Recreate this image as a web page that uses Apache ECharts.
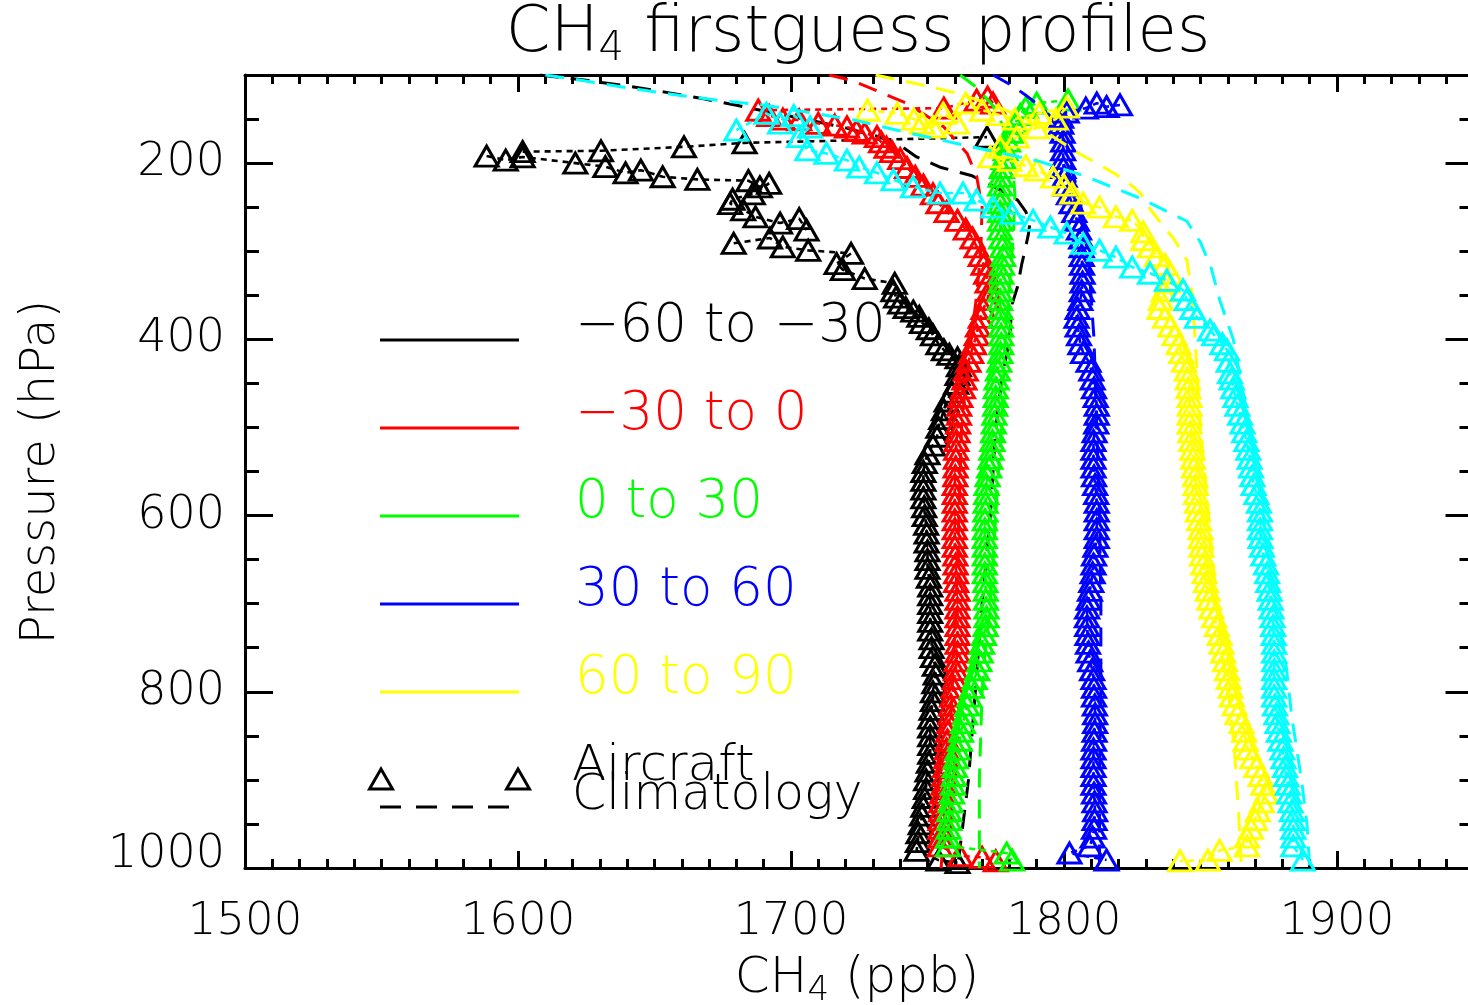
<!DOCTYPE html>
<html>
<head>
<meta charset="utf-8">
<title>CH4 firstguess profiles</title>
<script src="https://cdn.jsdelivr.net/npm/echarts@6/dist/echarts.min.js"></script>
<style>
  html, body { margin: 0; padding: 0; background: #ffffff; }
  #chart { width: 1468px; height: 1005px; }
</style>
</head>
<body>
<div id="chart"></div>
<script>
// CH4 first-guess profiles: aircraft observations (open triangles joined by a
// dotted line) and the climatology (long dashes), one colour per latitude band.
// Every profile is a list of [CH4 (ppb), pressure (hPa)]; '-' breaks the line.

const bandLabels = ['\u221260 to \u221230', '\u221230 to 0', '0 to 30', '30 to 60', '60 to 90'];
const xTickLabels = [1500, 1600, 1700, 1800, 1900];
const yTickLabels = [200, 400, 600, 800, 1000];

const blackAircraft = [
  [1601.7,187],[1630.4,186],[1660.8,181.5],[1683,177],[1771.8,170.5],'-',
  [1588.5,192],[1595.5,196.6],[1601.7,193],[1621,200],[1632,204],[1639.4,211],[1645,208],[1653,215.5],
  [1665.7,218.5],[1684.4,220],[1688.6,227],[1692,223],[1686,235],[1678.6,241],[1677.7,246],[1682.5,253],
  [1687,261],[1696,268],[1703,263],[1705.7,276],'-',
  [1679,291],[1692.3,285],[1697,295],[1706.3,299],[1722,302.5],[1716.7,314],[1719,321],[1727,331],
  [1738,336.5],[1737.5,345],[1738.5,352],[1740,359],[1742,364],[1744.8,368],[1747,374],[1748,381],
  [1750.5,388],[1752,395],[1754,405],[1756,412],[1758,417],[1761,421],[1761.5,430],[1761,440],
  [1760.5,450],[1759,460],[1757,470],[1756,480],[1755,490],[1754,500],[1753.5,510],[1752,520],
  [1750,530],[1749,540],[1748.5,550],[1748.5,560],[1748.5,570],[1748.5,580],[1748.8,590],[1749,600],
  [1749.5,610],[1749.7,620],[1749.7,630],[1750,640],[1750,650],[1750,660],[1750.5,670],[1751,680],
  [1751,690],[1751,700],[1751,710],[1751,720],[1751,730],[1751.5,740],[1751.5,750],[1752,760],
  [1752.7,770],[1753,780],[1752.5,790],[1752,800],[1752,810],[1751.5,820],[1751,830],[1751,840],
  [1751,850],[1751,860],[1751,870],[1750.5,880],[1750,890],[1749.5,900],[1749.5,910],[1749,920],
  [1748.5,930],[1748,940],[1747.5,950],[1746.7,960],[1746.5,970],[1746,980],[1754,991],[1761,994]
];

const redAircraft = [
  [1774,132],[1772,125],[1768,128.5],[1756,137.6],[1688,140],[1692,146],[1697,150],[1703,151],
  [1710,155],[1716,157],[1720.5,159],[1724,163],[1727,166],[1731.5,170],[1733,176],[1735,182],
  [1737,187],[1740,195],[1742.5,205],[1745.5,215],[1748.5,225],[1752,235],[1754,245],[1757,255],
  [1761,265],[1764,275],[1766.5,285],[1768,295],[1769.5,305],[1770.5,315],[1771.5,325],[1772,335],
  [1772.5,345],[1772,355],[1770.5,365],[1769.5,375],[1768.5,385],[1768,395],[1767,405],[1766,415],
  [1765,425],[1764,435],[1763.5,445],[1763,455],[1762,465],[1761.6,475],[1761.5,485],[1761.2,495],
  [1761,505],[1760.6,515],[1760.5,525],[1760.4,535],[1760.3,545],[1760.2,555],[1760,565],[1760,575],
  [1760,585],[1760,595],[1760,605],[1760,615],[1760,625],[1760,635],[1760.2,645],[1760.3,655],
  [1760.5,665],[1760.5,675],[1761,685],[1761,695],[1761,705],[1761,715],[1761,725],[1761,735],
  [1761,745],[1761,755],[1760.6,765],[1760.4,775],[1760,785],[1759.5,795],[1759,805],[1758.6,815],
  [1758.3,825],[1758,835],[1757.5,845],[1757.3,855],[1757,865],[1756.8,875],[1756.4,885],[1756,895],
  [1755.8,905],[1755.3,915],[1755,925],[1755,935],[1754.8,945],[1754.7,955],[1754.7,965],[1754.5,975],
  [1762,986],[1770,988],[1775,992]
];

const greenAircraft = [
  [1801.5,128.5],[1790,132],[1786,137],[1784,145],[1782,155],[1780.5,165],[1779.5,175],[1778.6,185],
  [1777.8,195],[1777.2,205],[1776.8,215],[1776.6,225],[1776.6,235],[1776.6,245],[1776.6,255],[1776.6,265],
  [1776.6,275],[1777,285],[1777.4,295],[1777.7,305],[1777.3,315],[1777,325],[1776.8,335],[1776.6,345],
  [1776.6,355],[1776.7,365],[1776.8,375],[1777,385],[1777,395],[1777,405],[1776.7,415],[1776.3,425],
  [1775.8,435],[1775.3,445],[1775,455],[1775,465],[1774.8,475],[1774.5,485],[1774.3,495],[1774,505],
  [1773.8,515],[1773.4,525],[1773,535],[1772.6,545],[1772,555],[1771.6,565],[1771.5,575],[1771.3,585],
  [1771.2,595],[1771,605],[1771,615],[1771,625],[1771,635],[1771,645],[1771,655],[1771,665],
  [1771.2,675],[1771.3,685],[1771.4,695],[1771.6,705],[1771.6,715],[1771.3,725],[1770.7,735],[1770,745],
  [1769.5,755],[1769,765],[1768.2,775],[1767.3,785],[1766.3,795],[1765.3,805],[1764.5,815],[1763.8,825],
  [1763,835],[1762.3,845],[1761.8,855],[1761,865],[1760.4,875],[1760,885],[1759.6,895],[1759.3,905],
  [1759,915],[1758.5,925],[1758,935],[1758,945],[1757.7,955],[1757.5,965],[1757.5,975],[1779,983],
  [1781,991]
];

const blueAircraft = [
  [1820.5,134],[1815.6,136],[1812,132],[1808,137.6],[1801,142],[1799,148],[1799,155],[1799.5,165],
  [1799.7,175],[1799.7,185],[1799.7,195],[1799.8,205],[1800.2,215],[1800.8,225],[1801.8,235],[1802.8,245],
  [1803.8,255],[1804.7,265],[1805.5,275],[1806.3,285],[1806.5,295],[1806.5,305],[1806.6,315],[1806.8,325],
  [1806.8,335],[1806.5,345],[1806,355],[1805,365],[1804.6,375],[1805,385],[1805.5,395],[1806,405],
  [1807,415],[1809,425],[1810,435],[1810.5,445],[1811,455],[1811.6,465],[1812,475],[1812,485],
  [1811.8,495],[1811.2,505],[1810.8,515],[1810.8,525],[1810.8,535],[1810.8,545],[1811,555],[1811.4,565],
  [1811.8,575],[1812,585],[1812,595],[1812,605],[1812,615],[1812,625],[1811.5,635],[1811,645],
  [1810.8,655],[1810.5,665],[1810,675],[1809.5,685],[1809,695],[1808.5,705],[1808.4,715],[1808.5,725],
  [1808.6,735],[1808.8,745],[1809,755],[1809.6,765],[1810.3,775],[1810.8,785],[1811,795],[1811,805],
  [1811.3,815],[1811.4,825],[1811.4,835],[1811.2,845],[1811,855],[1810.8,865],[1810.8,875],[1810.8,885],
  [1810.8,895],[1810.8,905],[1811,915],[1811.2,925],[1811.4,935],[1811.2,945],[1811,955],[1810.5,965],
  [1809.5,975],[1802,983],[1815.6,991]
];

const yellowAircraft = [
  [1728,140],[1739,143.5],[1745,150],[1748,154.6],[1752,159],[1755.7,143.5],[1760.8,154.6],[1764,132],
  [1770,140],[1776,145],[1782,150],[1791,143.5],[1801,136.5],[1797,150],[1790,160],[1782.7,170.5],
  [1776.6,182],[1773,193],[1780,197],[1786,203],[1790,208],[1796,216],[1800,225],[1803,234],
  [1807,245.5],[1813,250],[1819,261],[1825,265],[1829,278],[1829,287],[1831.5,295],[1834,305],
  [1837,315],[1839,325],[1838,335],[1836.5,345],[1835.5,355],[1835,365],[1837,375],[1839,385],
  [1840.5,395],[1842,405],[1843,415],[1844,425],[1845,435],[1845.3,445],[1845.6,455],[1846,465],
  [1846,475],[1846,485],[1846,495],[1846.3,505],[1846.6,515],[1847,525],[1847.3,535],[1847.6,545],
  [1848,555],[1848.2,565],[1848.4,575],[1848.7,585],[1849,595],[1849.5,605],[1850,615],[1850.1,625],
  [1850.3,635],[1850.5,645],[1851,655],[1851.5,665],[1852,675],[1852.6,685],[1853.2,695],[1854,705],
  [1855,715],[1856,725],[1857,735],[1857.7,745],[1858.3,755],[1859,765],[1859.7,775],[1860.3,785],
  [1861,795],[1861.5,805],[1862.5,815],[1863.5,825],[1865,835],[1866,845],[1866.5,855],[1867.5,865],
  [1869,875],[1870.5,885],[1872,895],[1873,905],[1874,915],[1872.5,925],[1871,935],[1870,945],
  [1868.5,955],[1867,965],[1867,975],[1857,980],[1852.7,991],[1842.5,992]
];

const cyanAircraft = [
  [1680,162.6],[1691,143.5],[1696,154.6],[1701,146],[1707,159],[1703,170],[1706,185],[1713,189],
  [1720.5,196.6],[1725,204.5],[1731.5,211],[1737.5,219],[1744.7,227],[1754.6,234],[1763,234],[1768,242],
  [1774,250],[1781,257],[1788.7,265],[1795,272.6],[1801,279.5],[1807,291],[1813,299],[1819,306.7],
  [1825,318],[1831.5,325],[1837.7,333],[1843.6,344],[1845,355],[1847,365],[1848.7,375],[1853.5,389.5],
  [1855,395],[1858,405],[1859.7,412],[1860.3,425],[1860.8,438],[1861.4,445],[1862,455],[1862.8,465],
  [1863.5,475],[1864.5,485],[1865.4,495],[1866,505],[1866.8,515],[1867.5,525],[1868,535],[1868.5,545],
  [1869,555],[1869.5,565],[1870.5,575],[1871.4,585],[1871.8,595],[1871.8,605],[1871.8,615],[1872,625],
  [1872.5,635],[1873,645],[1874,655],[1874.4,665],[1874.8,675],[1875.3,685],[1875.7,695],[1876,705],
  [1876.4,715],[1876.6,725],[1876.8,735],[1877,745],[1877,755],[1877,765],[1877,775],[1877,785],
  [1877,795],[1877,805],[1877.3,815],[1877.8,825],[1878.2,835],[1878.7,845],[1879.3,855],[1880,865],
  [1880.4,875],[1881,885],[1881.4,895],[1882,905],[1882.5,915],[1883,925],[1883.5,935],[1883.8,945],
  [1884,955],[1884,965],[1884,975],[1887.5,991]
];

const blackClimatology = [
  [1608,100],[1625,106],[1641,113],[1655,120],[1668,127],[1681,135],[1692,142],[1705,150],[1720,160],
  [1732,170],[1740,180],[1746,193],[1755,205],[1766,214],[1772,223],[1777,231],[1783,242],[1786,255],
  [1787.5,268],[1787,280],[1785.7,299],[1784.5,315],[1783,340],[1781,360],[1780,400],[1777,450],
  [1775,500],[1773,600],[1770,700],[1767.5,800],[1765,900],[1763,950],[1761,1000]
];
const redClimatology = [
  [1714,100],[1722,106],[1730,116],[1743,133],[1756,159],[1764.5,189],[1768,215],[1770,250],[1769.5,300],
  [1768,350],[1766,400],[1764,450],[1762.5,500],[1761.5,600],[1760.5,700],[1759,800],[1757.5,900],
  [1756,950],[1755,1000]
];
const greenClimatology = [
  [1762,100],[1768,114],[1774,135],[1778,160],[1781,190],[1782,236],[1781.5,280],[1780,340],[1778.5,400],
  [1777,500],[1775,600],[1773,700],[1771,760],[1770,800],[1769.5,850],[1769,900],[1769,950],[1769,1000]
];
const blueClimatology = [
  [1774,100],[1781,112],[1786,123],[1791,135],[1796,150],[1801,180],[1804,220],[1807,260],[1809,310],
  [1811,400],[1812,500],[1813,600],[1813.5,700],[1813.5,800],[1813,900],[1813,1000]
];
const yellowClimatology = [
  [1731,100],[1746,110],[1760,120],[1775,135],[1786,150],[1796,170],[1806,190],[1812,200],[1818,211],
  [1823,221],[1828,234],[1831,250],[1836,270],[1840,285],[1845,310],[1847,350],[1848,400],[1850,500],
  [1853,600],[1856,700],[1859,780],[1861,820],[1862.5,870],[1864,940],[1865,1000]
];
const cyanClimatology = [
  [1610,100],[1623,106],[1641,115],[1659,123],[1674,129],[1690,134],[1723,151],[1742,165],[1764,180],
  [1791,198],[1807,214],[1828,240],[1845,266],[1850,290],[1854,320],[1857,355],[1862,400],[1868,500],
  [1873,600],[1877,700],[1881,760],[1883.5,830],[1887,900],[1889,950],[1890,1000]
];

// ---- drawing ----
const FONT = '"DejaVu Sans", "Liberation Sans", sans-serif';
const WEIGHT = 200;
const colors = ['#000000', '#ff0000', '#00ff00', '#0000ff', '#ffff00', '#00ffff'];
const aircraftSets = [blackAircraft, redAircraft, greenAircraft, blueAircraft, yellowAircraft, cyanAircraft];
const climSets = [blackClimatology, redClimatology, greenClimatology, blueClimatology, yellowClimatology, cyanClimatology];

const X_MIN = 1500, X_MAX = 1950, Y_MIN = 100, Y_MAX = 1000;
const xMinorTicks = [];
for (let v = X_MIN; v <= X_MAX; v += 10) xMinorTicks.push(v);
const yMinorTicks = [];
for (let v = Y_MIN; v <= Y_MAX; v += 50) yMinorTicks.push(v);

const plainNumber = v => String(v);
// the bottom pressure label is lifted so it clears the CH4 axis labels
const pressureLabel = v => (v === Y_MAX ? '{low|' + v + '}' : String(v));

function xAxisDef(position, ticks, tickLen, withLine, withLabels) {
  return {
    type: 'value', position, min: X_MIN, max: X_MAX,
    axisLine: { show: withLine, onZero: false, lineStyle: { color: '#000', width: 3 } },
    axisTick: { show: true, inside: true, length: tickLen, customValues: ticks,
                lineStyle: { color: '#000', width: 3 } },
    axisLabel: withLabels
      ? { show: true, customValues: ticks, formatter: plainNumber, margin: 32, color: '#000',
          fontSize: 45, fontFamily: FONT, fontWeight: WEIGHT }
      : { show: false },
    splitLine: { show: false }
  };
}
function yAxisDef(position, ticks, tickLen, withLine, withLabels) {
  return {
    type: 'value', position, inverse: true, min: Y_MIN, max: Y_MAX,
    axisLine: { show: withLine, onZero: false, lineStyle: { color: '#000', width: 3 } },
    axisTick: { show: true, inside: true, length: tickLen, customValues: ticks,
                lineStyle: { color: '#000', width: 3 } },
    axisLabel: withLabels
      ? { show: true, customValues: ticks, formatter: pressureLabel, margin: 20, color: '#000',
          fontSize: 46, fontFamily: FONT, fontWeight: WEIGHT,
          rich: { low: { fontSize: 46, fontFamily: FONT, fontWeight: WEIGHT, color: '#000',
                         padding: [0, 0, 26, 0] } } }
      : { show: false },
    splitLine: { show: false }
  };
}

const series = [];
aircraftSets.forEach((data, i) => {
  series.push({
    type: 'line', data, xAxisIndex: 0, yAxisIndex: 0,
    symbol: 'triangle', symbolSize: [23, 20], showSymbol: true, showAllSymbol: true,
    connectNulls: false, silent: true, z: 2 + i * 2,
    itemStyle: { color: 'rgba(0,0,0,0)', borderColor: colors[i], borderWidth: 3 },
    lineStyle: { color: colors[i], width: 2.6, type: [6, 5] },
    emphasis: { disabled: true }
  });
  series.push({
    type: 'line', data: climSets[i], xAxisIndex: 0, yAxisIndex: 0,
    symbol: 'none', showSymbol: false, silent: true, z: 3 + i * 2,
    lineStyle: { color: colors[i], width: 3, type: [19, 12] },
    emphasis: { disabled: true }
  });
});

// legend, title and axis names
const graphic = [];
function txt(text, x, y, size, color) {
  return {
    type: 'text', x, y, silent: true, z: 50,
    style: { text, fill: color, fontSize: size, fontFamily: FONT, fontWeight: WEIGHT,
             align: 'left', verticalAlign: 'middle' }
  };
}
function subText(parts, size, subSize, lineH) {
  return {
    text: parts,
    rich: {
      m: { fontSize: size, fontFamily: FONT, fontWeight: WEIGHT, fill: '#000',
           lineHeight: lineH, verticalAlign: 'middle' },
      s: { fontSize: subSize, fontFamily: FONT, fontWeight: WEIGHT, fill: '#000',
           lineHeight: subSize, verticalAlign: 'bottom' }
    }
  };
}

graphic.push({
  type: 'text', x: 858, y: 34, silent: true, z: 50,
  style: Object.assign(subText('{m|CH}{s|4}{m| firstguess profiles}', 64, 40, 72),
                       { align: 'center', verticalAlign: 'middle' })
});
graphic.push({
  type: 'text', x: 857, y: 979, silent: true, z: 50,
  style: Object.assign(subText('{m|CH}{s|4}{m| (ppb)}', 50, 34, 58),
                       { align: 'center', verticalAlign: 'middle' })
});
graphic.push({
  type: 'text', x: 42, y: 472, rotation: Math.PI / 2, silent: true, z: 50,
  style: { text: 'Pressure (hPa)', fill: '#000', fontSize: 48, fontFamily: FONT, fontWeight: WEIGHT,
           align: 'center', verticalAlign: 'middle' }
});

const legendRows = [340, 428, 516, 604, 692];
bandLabels.forEach((label, i) => {
  graphic.push({
    type: 'line', silent: true, z: 50,
    shape: { x1: 380, y1: legendRows[i], x2: 519, y2: legendRows[i] },
    style: { stroke: colors[i], lineWidth: 3 }
  });
  graphic.push(txt(label, 575, legendRows[i] - 13, 53, colors[i]));
});
[381, 518].forEach(cx => {
  graphic.push({
    type: 'polygon', silent: true, z: 50,
    shape: { points: [[cx, 769], [cx + 11.5, 789], [cx - 11.5, 789]] },
    style: { fill: 'none', stroke: '#000', lineWidth: 3 }
  });
});
graphic.push({
  type: 'line', silent: true, z: 50,
  shape: { x1: 380, y1: 807, x2: 512, y2: 807 },
  style: { stroke: '#000', lineWidth: 3, lineDash: [21, 15] }
});
graphic.push(txt('Aircraft', 572, 767, 50, '#000'));
graphic.push(txt('Climatology', 572, 796, 49, '#000'));

const chart = echarts.init(document.getElementById('chart'), null, { renderer: 'canvas' });
chart.setOption({
  animation: false,
  backgroundColor: '#ffffff',
  grid: { left: 245, top: 75, width: 1228.5, height: 793, containLabel: false, outerBoundsMode: 'none' },
  xAxis: [
    xAxisDef('bottom', xTickLabels, 17, true, true),
    xAxisDef('bottom', xMinorTicks, 9, false, false),
    xAxisDef('top', xTickLabels, 17, true, false),
    xAxisDef('top', xMinorTicks, 9, false, false)
  ],
  yAxis: [
    yAxisDef('left', yTickLabels, 28, true, true),
    yAxisDef('left', yMinorTicks, 14, false, false),
    yAxisDef('right', yTickLabels, 28, true, false),
    yAxisDef('right', yMinorTicks, 14, false, false)
  ],
  series,
  graphic
});
</script>
</body>
</html>
